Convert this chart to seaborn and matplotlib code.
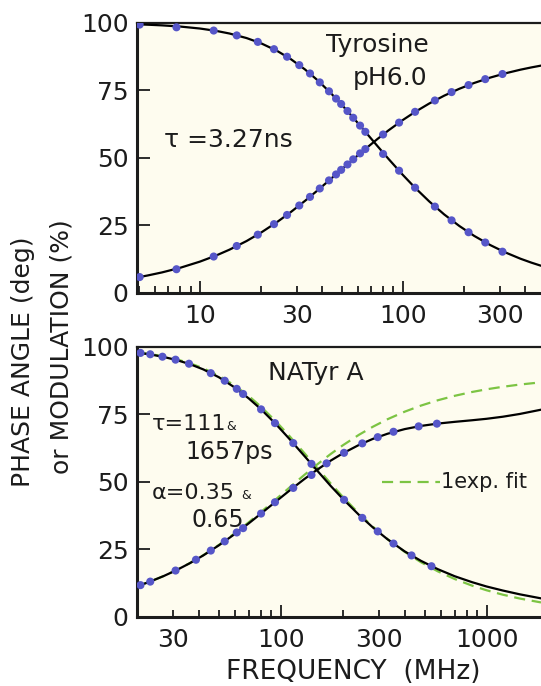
#Phase and modulation data of tyrosine and NATyrA
#Top: Tyrosine pH 6.0 (single decay), bottom: NATyr A (two decays + 1exp fit)

#Import the required libraries
import matplotlib
matplotlib.use("Agg")
import matplotlib.pyplot as plt
import matplotlib.ticker as mtick
import pandas as pd
import seaborn as sns


# Tyrosine curves (frequency in MHz)
top_freq = [4.9, 5.5, 6.5, 8, 10, 12, 14, 17, 20, 24, 28, 33, 38, 44, 50, 57, 65,
            75, 85, 100, 115, 135, 160, 190, 225, 270, 320, 380, 430, 480]
top_phase = [5.75, 6.45, 7.61, 9.33, 11.61, 13.85, 16.05, 19.25, 22.34, 26.25, 29.91,
             34.14, 37.98, 42.12, 45.77, 49.51, 53.17, 57.02, 60.21, 64.05, 67.06,
             70.17, 73.08, 75.63, 77.79, 79.78, 81.35, 82.70, 83.54, 84.21]
top_mod = [99.50, 99.37, 99.12, 98.68, 97.95, 97.09, 96.10, 94.41, 92.50, 89.69, 86.68,
           82.77, 78.82, 74.18, 69.75, 64.93, 59.94, 54.43, 49.69, 43.76, 38.97,
           33.92, 29.10, 24.82, 21.14, 17.74, 15.04, 12.70, 11.25, 10.09]

# Tyrosine measured points
top_dot_freq = [5.05, 7.67, 11.7, 15.2, 19.3, 23.2, 26.9, 30.9, 34.9, 39.0, 43.3, 46.9,
                49.7, 53.4, 57.0, 61.6, 65.4, 80.0, 95.9, 115, 144, 174, 211, 255, 310]
top_dot_phase = [5.9, 8.8, 13.5, 17.4, 21.6, 25.5, 28.9, 32.4, 35.6, 38.7, 41.7, 43.9,
                 45.6, 47.6, 49.5, 51.7, 53.3, 58.7, 63.1, 67.1, 71.3, 74.4, 77.0, 79.2, 81.1]
top_dot_mod = [99.4, 98.4, 97.2, 95.4, 93.0, 90.3, 87.5, 84.4, 81.3, 78.0, 74.7, 72.0,
               70.0, 67.4, 64.9, 62.0, 59.7, 51.5, 45.3, 39.0, 32.0, 26.9, 22.5, 18.7, 15.3]

# NATyr A curves
bot_freq = [20, 23, 27, 31, 36, 42, 50, 60, 70, 80, 95, 110, 130, 150, 175, 200, 240,
            280, 330, 400, 480, 580, 700, 850, 1000, 1200, 1450, 1840]
bot_phase = [11.37, 13.02, 15.18, 17.29, 19.85, 22.80, 26.53, 30.83, 34.73, 38.25, 42.86,
             46.76, 51.05, 54.51, 57.93, 60.58, 63.73, 65.95, 67.86, 69.58, 70.76, 71.63,
             72.27, 72.86, 73.40, 74.17, 75.19, 76.77]
bot_mod = [97.9, 97.3, 96.3, 95.2, 93.7, 91.7, 88.8, 84.9, 80.9, 77.0, 71.3, 66.0, 59.7,
           54.3, 48.5, 43.8, 37.8, 33.2, 28.8, 24.3, 20.8, 17.7, 15.1, 12.9, 11.3, 9.8,
           8.4, 6.9]
fit_phase = [11.37, 13.02, 15.19, 17.31, 19.90, 22.89, 26.69, 31.10, 35.13, 38.81, 43.68,
             47.88, 52.58, 56.45, 60.39, 63.56, 67.49, 70.44, 73.23, 76.03, 78.29, 80.27,
             81.91, 83.33, 84.32, 85.26, 86.08, 86.91]
fit_mod = [98.04, 97.43, 96.51, 95.47, 94.03, 92.12, 89.35, 85.63, 81.78, 77.93, 72.32,
           67.07, 60.74, 55.27, 49.41, 44.53, 38.28, 33.48, 28.86, 24.13, 20.29, 16.90,
           14.07, 11.62, 9.90, 8.26, 6.84, 5.39]

# NATyr A measured points
bot_mod_freq = [20.8, 23.2, 26.6, 30.8, 35.8, 45.7, 53.4, 61.1, 65.6, 80.2, 93.7, 115,
                141, 203, 249, 296, 353, 432, 540]
bot_mod_dot = [97.8, 97.3, 96.4, 95.3, 93.8, 90.3, 87.5, 84.5, 82.6, 76.9, 71.8, 64.4,
               56.7, 43.4, 36.7, 31.7, 27.2, 22.8, 18.8]
bot_phase_freq = [20.8, 23.2, 30.8, 38.7, 45.7, 53.4, 61.1, 65.6, 80.2, 93.7, 115, 141,
                  167, 203, 249, 296, 353, 468, 574]
bot_phase_dot = [11.8, 13.1, 17.2, 21.2, 24.6, 28.0, 31.3, 32.9, 38.3, 42.5, 47.8, 52.6,
                 56.9, 60.8, 64.3, 66.6, 68.6, 70.6, 71.6]

y_ticks = [0, 25, 50, 75, 100]


# Style
sns.set_style("ticks")
plt.rcParams['font.family'] = ['DejaVu Sans']
ink = "#1c1c1c"
plt.rcParams['text.color'] = ink
plt.rcParams['xtick.color'] = ink
plt.rcParams['ytick.color'] = ink
plt.rcParams['axes.edgecolor'] = ink
fs = 18
dot_col = "#5656c8"
fit_col = "#7cc443"
face = "#fefcef"
dash = (0, (5, 3))

fig = plt.figure(figsize=(5.41, 6.86), dpi=100)
ax1 = fig.add_axes([0.2532, 0.5729, 0.7468, 0.3936])
ax2 = fig.add_axes([0.2532, 0.1006, 0.7468, 0.3936])


def style_axis(ax, xlim, labels):
    ax.set_xscale("log")
    ax.set_xlim(xlim)
    ax.set_ylim(0, 100)
    ax.set_facecolor(face)
    ax.spines['right'].set_visible(False)
    ax.spines['left'].set_linewidth(2.2)
    ax.spines['bottom'].set_linewidth(2.2)
    ax.spines['top'].set_linewidth(1.6)
    ax.set_yticks(y_ticks)
    ax.set_yticklabels([str(t) for t in y_ticks])
    ax.xaxis.set_major_locator(mtick.LogLocator(base=10, numticks=10))
    ax.xaxis.set_minor_locator(mtick.LogLocator(base=10, subs=range(2, 10), numticks=10))
    fmt = mtick.FuncFormatter(lambda v, p: f"{v:.0f}" if round(v) in labels else "")
    ax.xaxis.set_major_formatter(fmt)
    ax.xaxis.set_minor_formatter(fmt)
    ax.tick_params(axis='x', which='major', direction='in', length=9, width=1.3,
                   labelsize=fs, pad=8)
    ax.tick_params(axis='x', which='minor', direction='in', length=5, width=1.3,
                   labelsize=fs, pad=8)
    ax.tick_params(axis='y', direction='in', length=9.5, width=1.3, labelsize=fs, pad=6)
    ax.set_xlabel("")
    ax.set_ylabel("")
    leg = ax.get_legend()
    if leg is not None:
        leg.remove()


# Top panel: Tyrosine
top_curve = pd.DataFrame({"freq": top_freq, "phase": top_phase, "mod": top_mod})
top_dots = pd.DataFrame({"freq": top_dot_freq, "phase": top_dot_phase, "mod": top_dot_mod})
for col in ["phase", "mod"]:
    sns.lineplot(data=top_curve, x="freq", y=col, ax=ax1, color="black", lw=1.6,
                 estimator=None, zorder=3)
    sns.scatterplot(data=top_dots, x="freq", y=col, ax=ax1, color=dot_col, s=34,
                    edgecolor="none", zorder=4)
style_axis(ax1, (4.9, 480), (10, 30, 100, 300))
ax1.text(0.595, 0.918, "Tyrosine", transform=ax1.transAxes, ha="center", va="center", fontsize=fs)
ax1.text(0.626, 0.796, "pH6.0", transform=ax1.transAxes, ha="center", va="center", fontsize=fs)
ax1.text(0.066, 0.565, "τ =3.27ns", transform=ax1.transAxes, ha="left", va="center", fontsize=fs)

# Bottom panel: NATyr A
bot_curve = pd.DataFrame({"freq": bot_freq, "phase": bot_phase, "mod": bot_mod,
                          "fit_phase": fit_phase, "fit_mod": fit_mod})
mod_dots = pd.DataFrame({"freq": bot_mod_freq, "val": bot_mod_dot})
phase_dots = pd.DataFrame({"freq": bot_phase_freq, "val": bot_phase_dot})
for col in ["fit_phase", "fit_mod"]:
    sns.lineplot(data=bot_curve, x="freq", y=col, ax=ax2, color=fit_col, lw=1.6,
                 linestyle=dash, estimator=None, zorder=2)
for col in ["phase", "mod"]:
    sns.lineplot(data=bot_curve, x="freq", y=col, ax=ax2, color="black", lw=1.6,
                 estimator=None, zorder=3)
for d in [mod_dots, phase_dots]:
    sns.scatterplot(data=d, x="freq", y="val", ax=ax2, color=dot_col, s=34,
                    edgecolor="none", zorder=4)
style_axis(ax2, (20, 1840), (30, 100, 300, 1000))
ax2.text(0.443, 0.905, "NATyr A", transform=ax2.transAxes, ha="center", va="center", fontsize=fs)
ax2.text(0.037, 0.715, "τ=111", transform=ax2.transAxes, ha="left", va="center", fontsize=16)
ax2.text(0.222, 0.705, "&", transform=ax2.transAxes, ha="left", va="center", fontsize=9)
ax2.text(0.121, 0.611, "1657ps", transform=ax2.transAxes, ha="left", va="center", fontsize=17)
ax2.text(0.037, 0.461, "α=0.35", transform=ax2.transAxes, ha="left", va="center", fontsize=16)
ax2.text(0.258, 0.451, "&", transform=ax2.transAxes, ha="left", va="center", fontsize=9)
ax2.text(0.134, 0.360, "0.65", transform=ax2.transAxes, ha="left", va="center", fontsize=17)
ax2.plot([0.607, 0.749], [0.50, 0.50], transform=ax2.transAxes, color=fit_col,
         lw=1.6, linestyle=dash)
ax2.text(0.753, 0.50, "1exp. fit", transform=ax2.transAxes, ha="left", va="center", fontsize=15)

# Shared labels
fig.text(0.0416, 0.4728, "PHASE ANGLE (deg)", rotation=90, ha="center", va="center", fontsize=fs)
fig.text(0.1146, 0.4946, "or MODULATION (%)", rotation=90, ha="center", va="center", fontsize=fs)
fig.text(0.6525, 0.0204, "FREQUENCY  (MHz)", ha="center", va="center", fontsize=19)

fig.savefig("out.png", dpi=100)
